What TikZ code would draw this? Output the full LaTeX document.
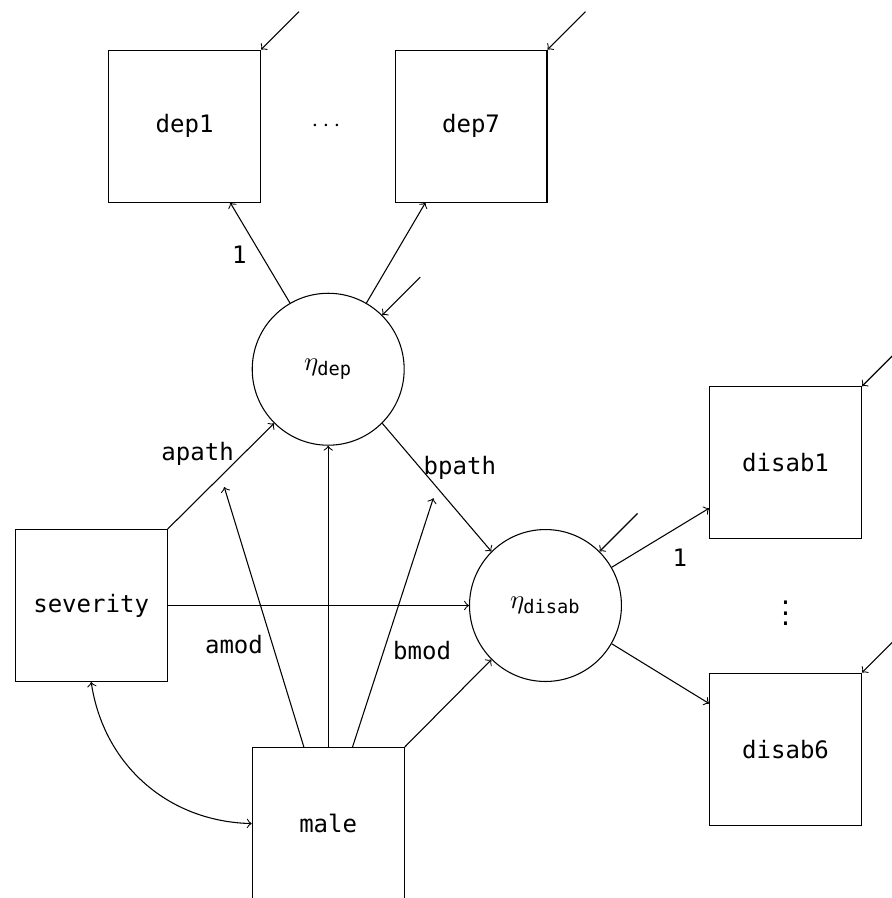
\documentclass[tikz,border=0pt]{standalone}
\usepackage{amsmath}
\usepackage{fontspec}
\setmonofont{DejaVu Sans Mono}
\usetikzlibrary{positioning}

\begin{document}
\begin{tikzpicture}[>=to,
    every node/.append style = {font=\ttfamily\fontsize{9}{11}\selectfont},
    manifest/.style = {draw, rectangle, minimum size=2cm, inner sep=0pt},
    latent/.style = {draw, circle, minimum size=2cm, inner sep=0pt, font=\fontsize{10}{12}\selectfont}]
      \useasboundingbox (0,0) rectangle (11.74,-11.82);
      % indicators
      \node[manifest](dep1) at (2.43,-1.66) {dep1};
      \node(hdots) at (4.32,-1.66) {$\cdots$};
      \node[manifest](dep7) at (6.20,-1.66) {dep7};
      \node[manifest](disab1) at (10.34,-6.09) {disab1};
      \node(vdots) at (10.34,-7.97) {$\vdots$};
      \node[manifest](disab6) at (10.34,-9.86) {disab6};
      % latent factors
      \node[latent](etadep) at (4.32,-4.86) {$\eta_{\text{\ttfamily dep}}$};
      \node[latent](etadisab) at (7.18,-7.97) {$\eta_{\text{\ttfamily disab}}$};
      % covariates
      \node[manifest](severity) at (1.20,-7.97) {severity};
      \node[manifest](male) at (4.32,-10.84) {male};
      % loadings
      \draw[->] (etadep.120) -- node[pos=.48, left=2pt]{1} ([xshift=.6cm]dep1.south);
      \draw[->] (etadep.60) -- ([xshift=-.6cm]dep7.south);
      \draw[->] (etadisab.30) -- node[pos=.7, below=5pt]{1} ([yshift=-.6cm]disab1.west);
      \draw[->] (etadisab.-30) -- ([yshift=.6cm]disab6.west);
      % residuals
      \foreach \v in {dep1,dep7,disab1,disab6}
        \draw[<-] (\v.north east) -- ++(.5,.5);
      \draw[<-] (etadep.45) -- ++(.5,.5);
      \draw[<-] (etadisab.45) -- ++(.5,.5);
      % structural part
      \draw[->] (severity.north east) -- node[pos=.71, left]{apath} coordinate[pos=.5](amid) (etadep.225);
      \draw[->] (etadep.-45) -- node[pos=.35, right, inner sep=1pt]{bpath} coordinate[pos=.5](bmid) (etadisab.135);
      \draw[->] (severity) -- (etadisab);
      \draw[->] (male) -- (etadep);
      \draw[->] (male.north east) -- (etadisab.225);
      % moderation by male
      \draw[->, shorten >=.15cm] ([xshift=-.32cm]male.north) -- node[pos=.38, left]{amod} (amid);
      \draw[->, shorten >=.15cm] ([xshift=.32cm]male.north) -- node[pos=.37, right]{bmod} (bmid);
      \draw[<->] (severity.south) to[bend right=40] (male.west);
    \end{tikzpicture}
\end{document}
